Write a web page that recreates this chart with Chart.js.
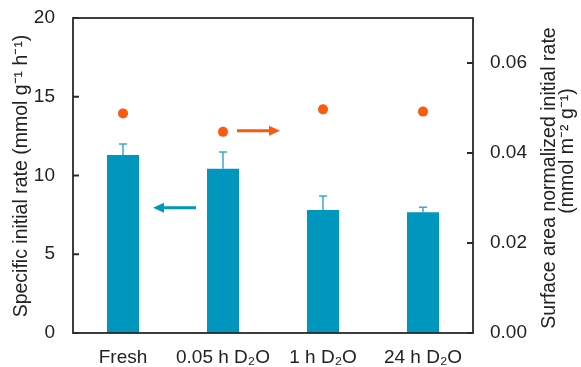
<!DOCTYPE html>
<html><head><meta charset="utf-8">
<script src="https://cdn.jsdelivr.net/npm/chart.js@4/dist/chart.umd.min.js"></script>
<style>html,body{margin:0;padding:0;background:#fff}</style>
</head><body>
<canvas id="c" width="581" height="367"></canvas>
<script>
const categories = ['Fresh', '0.05 h D\u2082O', '1 h D\u2082O', '24 h D\u2082O'];
const specificRate = [11.3, 10.43, 7.81, 7.66];
const specificErr = [0.7, 1.06, 0.89, 0.32];
const normalizedRate = [0.0488, 0.0447, 0.0497, 0.0492];
const leftTicks = [0, 5, 10, 15, 20];
const rightTicks = [0, 0.02, 0.04, 0.06];
const leftTitle = 'Specific initial rate (mmol g\u207B\u00B9 h\u207B\u00B9)';
const rightTitle = ['Surface area normalized initial rate', '(mmol m\u207B\u00B2 g\u207B\u00B9)'];

const FONT = "'Liberation Sans', Arial, sans-serif";
const BLUE = '#0096BE';
const ORANGE = '#FA5A0F';

const extras = {
  id: 'extras',
  afterDatasetsDraw(chart) {
    const ctx = chart.ctx;
    const x = chart.scales.x, y = chart.scales.y;
    ctx.save();
    ctx.strokeStyle = '#3AA8D0';
    ctx.lineWidth = 1.5;
    specificRate.forEach((v, i) => {
      const px = x.getPixelForValue(i);
      const top = y.getPixelForValue(v + specificErr[i]);
      const base = y.getPixelForValue(v);
      ctx.beginPath();
      ctx.moveTo(px, base); ctx.lineTo(px, top);
      ctx.moveTo(px - 4, top); ctx.lineTo(px + 4, top);
      ctx.stroke();
    });
    ctx.restore();
  },
  afterDraw(chart) {
    const ctx = chart.ctx;
    const a = chart.chartArea;
    const x = chart.scales.x, y = chart.scales.y, y1 = chart.scales.y1;
    ctx.save();
    ctx.strokeStyle = '#2a2a2a';
    ctx.lineWidth = 1.8;
    ctx.strokeRect(a.left, a.top, a.right - a.left, a.bottom - a.top);
    ctx.beginPath();
    leftTicks.forEach(t => { const py = y.getPixelForValue(t); ctx.moveTo(a.left, py); ctx.lineTo(a.left + 6, py); });
    rightTicks.forEach(t => { const py = y1.getPixelForValue(t); ctx.moveTo(a.right, py); ctx.lineTo(a.right - 6, py); });
    ctx.stroke();
    function arrow(x0, x1, py, color, headAtEnd) {
      ctx.strokeStyle = color; ctx.fillStyle = color; ctx.lineWidth = 3;
      const hx = headAtEnd ? x1 : x0;
      const dir = headAtEnd ? 1 : -1;
      ctx.beginPath();
      ctx.moveTo(headAtEnd ? x0 : x1, py);
      ctx.lineTo(hx - dir * 8, py);
      ctx.stroke();
      ctx.beginPath();
      ctx.moveTo(hx, py);
      ctx.lineTo(hx - dir * 11, py - 5);
      ctx.lineTo(hx - dir * 11, py + 5);
      ctx.closePath();
      ctx.fill();
    }
    arrow(x.getPixelForValue(0.3), x.getPixelForValue(0.73), y.getPixelForValue(7.96), BLUE, false);
    arrow(x.getPixelForValue(1.14), x.getPixelForValue(1.57), y1.getPixelForValue(0.04496), ORANGE, true);
    ctx.fillStyle = '#222';
    ctx.font = '19.5px ' + FONT;
    ctx.textAlign = 'center';
    ctx.textBaseline = 'middle';
    [[leftTitle, 22, 176], [rightTitle[0], 550, 178], [rightTitle[1], 568, 151]].forEach(([t, tx, ty]) => {
      ctx.save();
      ctx.translate(tx, ty);
      ctx.rotate(-Math.PI / 2);
      ctx.fillText(t, 0, 0);
      ctx.restore();
    });
    ctx.restore();
  }
};

new Chart(document.getElementById('c'), {
  data: {
    labels: categories,
    datasets: [
      {
        type: 'scatter',
        data: normalizedRate.map((v, i) => ({ x: i, y: v })),
        yAxisID: 'y1',
        xAxisID: 'x',
        showLine: false,
        pointRadius: 5,
        pointHoverRadius: 5,
        pointBackgroundColor: ORANGE,
        pointBorderWidth: 0,
        order: 0
      },
      {
        type: 'bar',
        data: specificRate,
        yAxisID: 'y',
        backgroundColor: BLUE,
        borderWidth: 0,
        barPercentage: 0.32,
        categoryPercentage: 1,
        order: 1
      }
    ]
  },
  options: {
    responsive: false,
    animation: false,
    events: [],
    layout: { padding: { top: 18, left: 0, right: 0, bottom: 0 } },
    plugins: { legend: { display: false }, tooltip: { enabled: false } },
    scales: {
      x: {
        type: 'category',
        offset: true,
        grid: { display: false, drawTicks: false },
        border: { display: false },
        ticks: { color: '#222', font: { family: FONT, size: 19 }, padding: 13, maxRotation: 0, autoSkip: false },
        afterFit(s) { s.height = 34; s.paddingLeft = 0; s.paddingRight = 0; }
      },
      y: {
        position: 'left',
        min: 0, max: 20,
        grid: { display: false, drawTicks: false },
        border: { display: false },
        afterBuildTicks(s) { s.ticks = leftTicks.map(v => ({ value: v })); },
        ticks: { color: '#222', font: { family: FONT, size: 19 }, padding: 18 },
        afterFit(s) { s.width = 73; s.paddingTop = 0; s.paddingBottom = 0; }
      },
      y1: {
        position: 'right',
        min: 0, max: 0.07,
        grid: { display: false, drawTicks: false },
        border: { display: false },
        afterBuildTicks(s) { s.ticks = rightTicks.map(v => ({ value: v })); },
        ticks: { color: '#222', font: { family: FONT, size: 19 }, padding: 17, callback: v => Number(v).toFixed(2) },
        afterFit(s) { s.width = 108; s.paddingTop = 0; s.paddingBottom = 0; }
      }
    }
  },
  plugins: [extras]
});
</script>
</body></html>
